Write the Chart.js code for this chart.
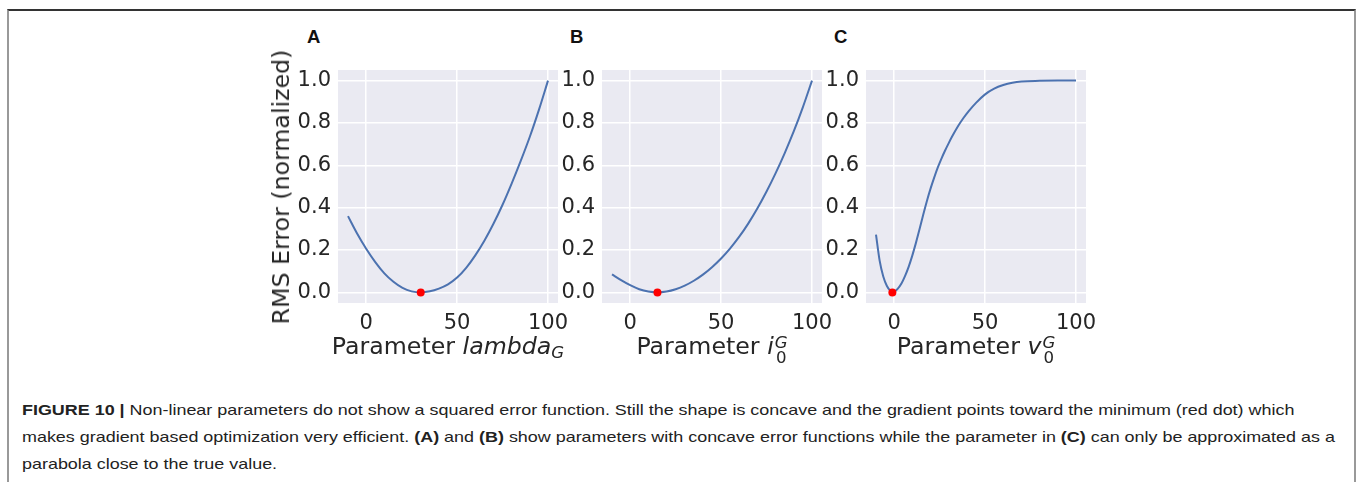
<!DOCTYPE html>
<html>
<head>
<meta charset="utf-8">
<script src="https://cdn.jsdelivr.net/npm/chart.js@4.4.0/dist/chart.umd.min.js"></script>
<style>
    body { margin: 0; width: 1360px; height: 482px; overflow: hidden; position: relative; background: #fff; font-family: "DejaVu Sans", sans-serif; }
    .frame { position: absolute; left: 7px; top: 9px; width: 1345px; height: 480px; border-top: 2px solid #333; border-left: 2px solid #999; border-right: 2px solid #999; }
    canvas { position: absolute; top: 60px; }
    .letter { position: absolute; top: 26px; font: bold 18.5px "Liberation Sans", Arial, sans-serif; color: #111; }
    .xlabel { position: absolute; top: 332px; width: 320px; text-align: center; font-size: 23.7px; line-height: 28px; color: #262626; white-space: nowrap; }
    .ylabel { position: absolute; left: 281px; top: 187px; transform: translate(-50%, -50%) rotate(-90deg); font-size: 23.7px; line-height: 26px; color: #262626; white-space: nowrap; }
    .sub { font-size: 0.7em; vertical-align: -4px; }
    .stack { display: inline-block; font-size: 0.7em; line-height: 15px; vertical-align: -9px; margin-left: 1px; }
    .stack span { display: block; }
    .caption { position: absolute; left: 22px; top: 396px; font: 15px/27px "Liberation Sans", Arial, sans-serif; color: #222; white-space: nowrap; transform: scaleX(1.195); transform-origin: 0 0; }
</style>
</head>
<body>
<div class="frame"></div>

<div class="letter" style="left:307px">A</div>
<div class="letter" style="left:570px">B</div>
<div class="letter" style="left:834px">C</div>

<canvas id="chart-a" width="306" height="283" style="left:268px"></canvas>
<canvas id="chart-b" width="306" height="283" style="left:532px"></canvas>
<canvas id="chart-c" width="306" height="283" style="left:796px"></canvas>

<div class="ylabel">RMS Error (normalized)</div>
<div class="xlabel" style="left:288px">Parameter <i>lambda</i><span class="sub"><i>G</i></span></div>
<div class="xlabel" style="left:552px">Parameter <i>i</i><span class="stack"><span><i>G</i></span><span>0</span></span></div>
<div class="xlabel" style="left:816px">Parameter <i>v</i><span class="stack"><span><i>G</i></span><span>0</span></span></div>

<div class="caption"><b>FIGURE 10 |</b> Non-linear parameters do not show a squared error function. Still the shape is concave and the gradient points toward the minimum (red dot) which<br>makes gradient based optimization very efficient. <b>(A)</b> and <b>(B)</b> show parameters with concave error functions while the parameter in <b>(C)</b> can only be approximated as a<br>parabola close to the true value.</div>

<script>
// 坐标轴刻度
const xTickValues = [0, 50, 100];
const yTickValues = [0, 0.2, 0.4, 0.6, 0.8, 1.0];

// A: lambda_G
const lambdaX = [-10, -5, 0, 5, 10, 15, 20, 25, 30, 35, 40, 45, 50, 55, 60, 65, 70, 75, 80, 85, 90, 95, 100];
const lambdaErr = [0.36, 0.278, 0.206, 0.143, 0.09, 0.05, 0.021, 0.005, 0, 0.005, 0.018, 0.038, 0.07, 0.116, 0.175, 0.244, 0.324, 0.414, 0.514, 0.621, 0.735, 0.862, 1.0];
const lambdaMin = [30, 0];

// B: i_0^G
const iX = [-10, -5, 0, 5, 10, 15, 20, 25, 30, 35, 40, 45, 50, 55, 60, 65, 70, 75, 80, 85, 90, 95, 100];
const iErr = [0.085, 0.058, 0.034, 0.015, 0.004, 0, 0.004, 0.015, 0.032, 0.055, 0.084, 0.119, 0.16, 0.208, 0.263, 0.326, 0.397, 0.476, 0.563, 0.658, 0.761, 0.875, 1.0];
const iMin = [15, 0];

// C: v_0^G
const vX = [-10, -8, -6, -4, -2, -1, 0, 2, 4, 6, 8, 10, 12, 14, 16, 18, 20, 22, 24, 26, 28, 30, 32, 35, 38, 41, 45, 50, 55, 60, 65, 70, 80, 90, 100];
const vErr = [0.273, 0.15, 0.075, 0.03, 0.006, 0, 0.003, 0.018, 0.042, 0.078, 0.122, 0.175, 0.235, 0.3, 0.368, 0.432, 0.49, 0.542, 0.59, 0.632, 0.67, 0.705, 0.738, 0.783, 0.822, 0.856, 0.895, 0.935, 0.962, 0.979, 0.99, 0.996, 0.999, 1.0, 1.0];
const vMin = [-1, 0];

// 绘图区背景色
const panelBackground = {
    id: 'panelBackground',
    beforeDraw(chart) {
        const { ctx, chartArea } = chart;
        ctx.save();
        ctx.fillStyle = '#EAEAF2';
        ctx.fillRect(chartArea.left, chartArea.top, chartArea.right - chartArea.left, chartArea.bottom - chartArea.top);
        ctx.restore();
    }
};

const tickFont = { family: 'DejaVu Sans', size: 21 };

function drawPanel(canvasId, xs, ys, minPoint) {
    const ctx = document.getElementById(canvasId).getContext('2d');
    return new Chart(ctx, {
        type: 'line',
        data: {
            datasets: [{
                // 最小值红点
                data: [{ x: minPoint[0], y: minPoint[1] }],
                showLine: false,
                pointRadius: 4,
                pointBackgroundColor: '#FF0000',
                pointBorderWidth: 0,
                clip: false,
                order: 0
            }, {
                data: xs.map((x, i) => ({ x: x, y: ys[i] })),
                borderColor: '#4C72B0',
                borderWidth: 2,
                pointRadius: 0,
                cubicInterpolationMode: 'monotone',
                fill: false,
                order: 1
            }]
        },
        options: {
            responsive: false,
            animation: false,
            layout: { padding: { top: 10, right: 16, left: 0, bottom: 0 } },
            plugins: { legend: { display: false }, tooltip: { enabled: false } },
            scales: {
                x: {
                    type: 'linear',
                    min: -15.5,
                    max: 105.5,
                    afterBuildTicks: s => { s.ticks = xTickValues.map(v => ({ value: v })); },
                    afterFit: s => { s.height = 40; s.paddingLeft = 0; s.paddingRight = 0; },
                    grid: { color: '#FFFFFF', lineWidth: 1.5, drawTicks: false },
                    border: { display: false },
                    ticks: { padding: 8, color: '#262626', font: tickFont, maxRotation: 0, callback: v => String(v) }
                },
                y: {
                    min: -0.05,
                    max: 1.05,
                    afterBuildTicks: s => { s.ticks = yTickValues.map(v => ({ value: v })); },
                    afterFit: s => { s.width = 70; s.paddingTop = 0; s.paddingBottom = 0; },
                    grid: { color: '#FFFFFF', lineWidth: 1.5, drawTicks: false },
                    border: { display: false },
                    ticks: { padding: 7, color: '#262626', font: tickFont, callback: v => v.toFixed(1) }
                }
            }
        },
        plugins: [panelBackground]
    });
}

drawPanel('chart-a', lambdaX, lambdaErr, lambdaMin);
drawPanel('chart-b', iX, iErr, iMin);
drawPanel('chart-c', vX, vErr, vMin);
</script>
</body>
</html>
